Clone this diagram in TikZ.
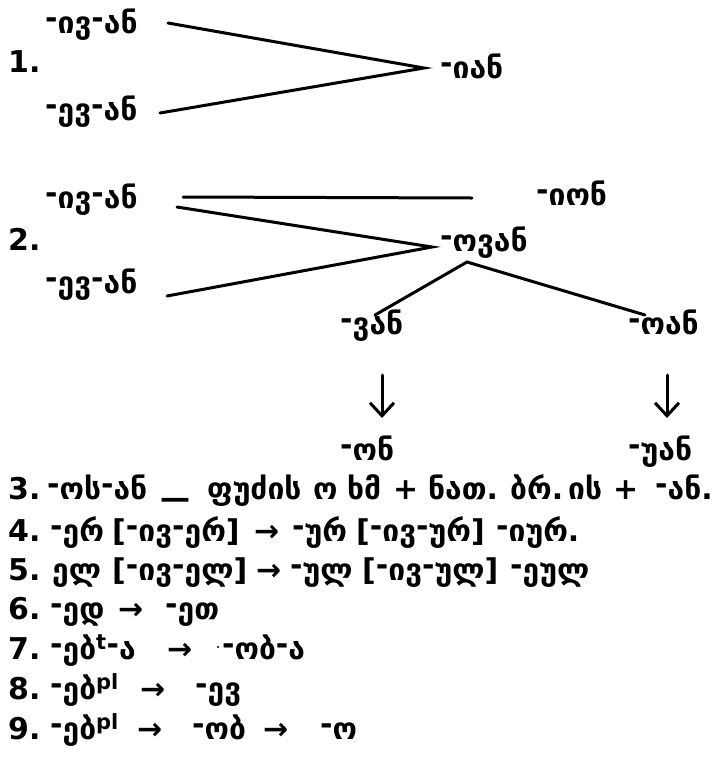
\documentclass[tikz,border=0pt]{standalone}
\usepackage{fontspec}
\setmainfont{DejaVu Sans}
\usetikzlibrary{arrows.meta}

% raised dash of the suffixes
\newcommand{\hy}{\raisebox{.16em}{-}}

\begin{document}
\begin{tikzpicture}[x=1pt, y=-1pt, line cap=round,
  every node/.style={font=\fontsize{30}{34}\selectfont\bfseries, inner sep=0pt, anchor=base west},
  ln/.style={line width=3pt},
  dn/.style={line width=3pt, -{Straight Barb[length=13pt, width=24pt]}}]
\useasboundingbox (0,0) rectangle (716,761);

% 1. both stems give -ian
\node (n1) at (8,72) {1.};
\node (iv1) at (45,33) {\hy ივ\hy ან};
\node (ev1) at (45,120) {\hy ევ\hy ან};
\node (ian) at (440,78) {\hy იან};
\coordinate (iv1r) at (168,23);
\coordinate (ev1r) at (160,113);
\coordinate (p1) at (424,68);
\draw[ln] (iv1r) -- (p1) -- (ev1r);

% 2. -ion beside, -ovan below, then its two outcomes
\node (n2) at (8,250) {2.};
\node (iv2) at (45,208) {\hy ივ\hy ან};
\node (ev2) at (45,293) {\hy ევ\hy ან};
\node (ion) at (536,205) {\hy იონ};
\node (ovan) at (440,251) {\hy ოვან};
\coordinate (iv2h) at (183,197);
\coordinate (ionl) at (472,198);
\coordinate (iv2r) at (177,207);
\coordinate (ev2r) at (167,296);
\coordinate (p2) at (432,247);
\draw[ln] (iv2h) -- (ionl);
\draw[ln] (iv2r) -- (p2) -- (ev2r);

\coordinate (p3) at (467,262);
\coordinate (vanl) at (375,315);
\coordinate (oanl) at (645,315);
\draw[ln] (vanl) -- (p3) -- (oanl);
\node (van) at (340,334) {\hy ვან};
\node (oan) at (628,334) {\hy ოან};

\coordinate (d1) at (382,375);
\coordinate (d1e) at (382,418);
\coordinate (d2) at (667,375);
\coordinate (d2e) at (667,418);
\draw[dn] (d1) -- (d1e);
\draw[dn] (d2) -- (d2e);
\node (on) at (340,460) {\hy ონ};
\node (uan) at (628,460) {\hy უან};

% 3.--9. one row each
\foreach \xx/\ww [count=\i] in {8/3., 47/{\hy ოს\hy ან}, 160/{\raisebox{-.3em}{—}}, 207/ფუძის,
    313/ო, 347/ხმ, 393/+, 428/ნათ., 510/ბრ., 568/ის, 613/+, 655/{\hy ან.}}
  \node (r3\i) at (\xx,499) {\ww};
\foreach \xx/\ww [count=\i] in {8/4., 50/{\hy ერ}, 112/{[\hy ივ\hy ერ]}, 254/→,
    292/{\hy ურ}, 356/{[\hy ივ\hy ურ]}, 496/{\hy იურ.}}
  \node (r4\i) at (\xx,541) {\ww};
\foreach \xx/\ww [count=\i] in {8/5., 52/ელ, 112/{[\hy ივ\hy ელ]}, 256/→,
    290/{\hy ულ}, 362/{[\hy ივ\hy ულ]}, 510/{\hy ეულ}}
  \node (r5\i) at (\xx,580) {\ww};
\foreach \xx/\ww [count=\i] in {8/6., 50/{\hy ედ}, 118/→, 165/{\hy ეთ}}
  \node (r6\i) at (\xx,619) {\ww};
\foreach \xx/\ww [count=\i] in {8/7., 50/{\hy ებ\textsuperscript{t}\hy ა}, 167/→, 222/{\hy ობ\hy ა}}
  \node (r7\i) at (\xx,659) {\ww};
\fill (218,647) circle (1.2pt);
\foreach \xx/\ww [count=\i] in {8/8., 50/{\hy ებ\textsuperscript{pl}}, 140/→, 195/{\hy ევ}}
  \node (r8\i) at (\xx,699) {\ww};
\foreach \xx/\ww [count=\i] in {8/9., 50/{\hy ებ\textsuperscript{pl}}, 137/→, 192/{\hy ობ},
    263/→, 320/{\hy ო}}
  \node (r9\i) at (\xx,739) {\ww};

\end{tikzpicture}
\end{document}
